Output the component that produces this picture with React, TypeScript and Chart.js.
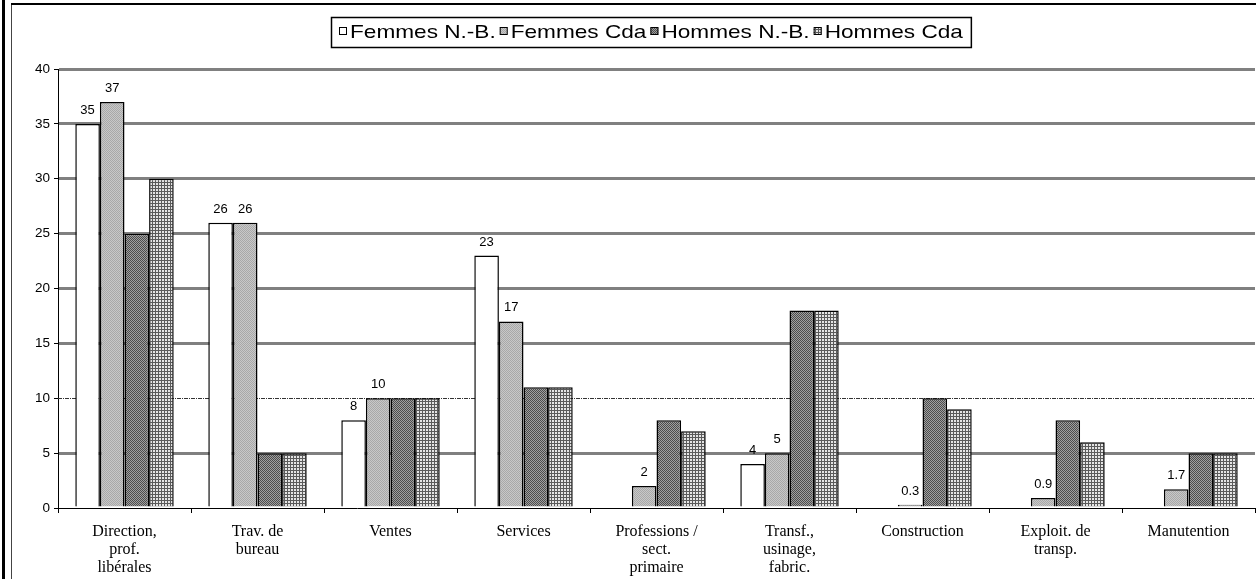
import React, { useEffect, useRef } from "react";
import { Chart, registerables } from "chart.js";

Chart.register(...registerables);

const categories: string[][] = [
  ["Direction,", "prof.", "libérales"],
  ["Trav. de", "bureau"],
  ["Ventes"],
  ["Services"],
  ["Professions /", "sect.", "primaire"],
  ["Transf.,", "usinage,", "fabric."],
  ["Construction"],
  ["Exploit. de", "transp."],
  ["Manutention"],
];

const seriesLabels = ["Femmes N.-B.", "Femmes Cda", "Hommes N.-B.", "Hommes Cda"];
const femmesNB: (number | null)[] = [35, 26, 8, 23, null, 4, null, null, null];
const femmesCda: (number | null)[] = [37, 26, 10, 17, 2, 5, 0.3, 0.9, 1.7];
const hommesNB: (number | null)[] = [25, 5, 10, 11, 8, 18, 10, 8, 5];
const hommesCda: (number | null)[] = [30, 5, 10, 11, 7, 18, 9, 6, 5];
const labelledSeries = [0, 1];

const Y_MIN = 0;
const Y_MAX = 40;
const Y_STEP = 5;
const DOTTED_VALUE = 10;

function makePattern(kind: string): CanvasPattern | string {
  const c = document.createElement("canvas");
  const ctx = c.getContext("2d");
  if (!ctx) return "#999";
  if (kind === "white") return "#ffffff";
  if (kind === "light") {
    c.width = 2; c.height = 2;
    ctx.fillStyle = "#c8c8c8"; ctx.fillRect(0, 0, 2, 2);
    ctx.fillStyle = "#a8a8a8"; ctx.fillRect(0, 0, 1, 1); ctx.fillRect(1, 1, 1, 1);
  } else if (kind === "dark") {
    c.width = 2; c.height = 2;
    ctx.fillStyle = "#a0a0a0"; ctx.fillRect(0, 0, 2, 2);
    ctx.fillStyle = "#4c4c4c"; ctx.fillRect(0, 0, 1, 1); ctx.fillRect(1, 1, 1, 1);
  } else {
    c.width = 3; c.height = 3;
    ctx.fillStyle = "#e4e4e4"; ctx.fillRect(0, 0, 3, 3);
    ctx.fillStyle = "#5a5a5a"; ctx.fillRect(0, 2, 3, 1); ctx.fillRect(2, 0, 1, 3);
  }
  const p = ctx.createPattern(c, "repeat");
  return p || "#999";
}

const dottedLinePlugin = {
  id: "dottedLine",
  beforeDatasetsDraw(chart: any) {
    const { ctx, chartArea, scales } = chart;
    const y = Math.round(scales.y.getPixelForValue(DOTTED_VALUE)) + 0.5;
    ctx.save();
    ctx.strokeStyle = "#333";
    ctx.lineWidth = 1;
    ctx.setLineDash([4, 1, 1, 1]);
    ctx.beginPath();
    ctx.moveTo(chartArea.left, y);
    ctx.lineTo(chartArea.right, y);
    ctx.stroke();
    ctx.restore();
  },
};

const valueLabelPlugin = {
  id: "valueLabels",
  afterDatasetsDraw(chart: any) {
    const ctx = chart.ctx;
    ctx.save();
    ctx.font = '13px "Liberation Sans", Arial, sans-serif';
    ctx.fillStyle = "#000";
    ctx.textAlign = "center";
    ctx.textBaseline = "alphabetic";
    labelledSeries.forEach((di) => {
      const meta = chart.getDatasetMeta(di);
      const data = chart.data.datasets[di].data;
      meta.data.forEach((el: any, i: number) => {
        const v = data[i];
        if (v === null || v === undefined) return;
        ctx.fillText(String(v), el.x, el.y - 10);
      });
    });
    ctx.restore();
  },
};

const legendPlugin = {
  id: "boxLegend",
  afterDraw(chart: any) {
    const ctx = chart.ctx;
    const ds = chart.data.datasets;
    const fontSize = 19;
    const sx = 1.19;
    const boxLeft = 331;
    const boxTop = 17;
    const boxH = 30;
    ctx.save();
    ctx.font = `${fontSize}px "Liberation Sans", Arial, sans-serif`;
    ctx.textBaseline = "middle";
    ctx.textAlign = "left";
    let x = boxLeft + 8;
    ds.forEach((d: any) => {
      ctx.fillStyle = d.backgroundColor;
      ctx.fillRect(x, 27, 8, 8);
      ctx.strokeStyle = "#000";
      ctx.lineWidth = 1;
      ctx.strokeRect(x + 0.5, 27.5, 7, 7);
      x += 11;
      const w = ctx.measureText(d.label).width * sx;
      ctx.save();
      ctx.translate(x, 33);
      ctx.scale(sx, 1);
      ctx.fillStyle = "#000";
      ctx.fillText(d.label, 0, 0);
      ctx.restore();
      x += w + 4;
    });
    const right = x + 4;
    ctx.strokeStyle = "#000";
    ctx.lineWidth = 1.5;
    ctx.strokeRect(boxLeft + 0.5, boxTop + 0.5, right - boxLeft, boxH);
    ctx.restore();
  },
};

export default function App() {
  const ref = useRef<HTMLCanvasElement | null>(null);

  useEffect(() => {
    if (!ref.current) return;
    const fills = [makePattern("white"), makePattern("light"), makePattern("dark"), makePattern("grid")];
    const series = [femmesNB, femmesCda, hommesNB, hommesCda];
    const chart = new Chart(ref.current, {
      type: "bar",
      data: {
        labels: categories,
        datasets: series.map((s, i) => ({
          label: seriesLabels[i],
          data: s,
          backgroundColor: fills[i] as any,
          borderColor: "#000",
          borderWidth: 1.5,
          categoryPercentage: 0.74,
          barPercentage: 1,
        })),
      },
      options: {
        responsive: false,
        animation: false,
        events: [],
        layout: { padding: { left: 0, top: 69, right: 1, bottom: 0 } },
        plugins: {
          legend: { display: false },
          title: { display: false },
          tooltip: { enabled: false },
        },
        scales: {
          x: {
            grid: {
              display: true,
              drawOnChartArea: false,
              drawTicks: true,
              tickLength: 5,
              offset: true,
              color: "#000",
              lineWidth: 1,
            },
            border: { color: "#000", width: 1 },
            ticks: {
              color: "#000",
              font: { family: '"Liberation Serif", "Times New Roman", serif', size: 16, lineHeight: 1.125 },
              padding: 10,
              maxRotation: 0,
              autoSkip: false,
            },
            afterFit: (s: any) => { s.height = 71; },
          },
          y: {
            min: Y_MIN,
            max: Y_MAX,
            ticks: {
              stepSize: Y_STEP,
              color: "#000",
              font: { family: '"Liberation Sans", Arial, sans-serif', size: 13.5 },
              padding: 4,
            },
            grid: {
              color: (c: any) => {
                const v = c.tick ? c.tick.value : null;
                if (v === 0 || v === DOTTED_VALUE) return "rgba(0,0,0,0)";
                return "#808080";
              },
              lineWidth: 3,
              tickColor: "#000",
              tickWidth: 1,
              tickLength: 4,
            },
            border: { color: "#000", width: 1 },
            afterFit: (s: any) => { s.width = 58; },
          },
        },
      },
      plugins: [dottedLinePlugin, valueLabelPlugin, legendPlugin],
    });
    return () => chart.destroy();
  }, []);

  return (
    <div style={{ position: "fixed", left: 0, top: 0, width: 1256, height: 579, background: "#fff", overflow: "hidden" }}>
      <canvas ref={ref} width={1256} height={579} style={{ position: "absolute", left: 0, top: 0, width: 1256, height: 579 }} />
      <div style={{ position: "absolute", left: 2, top: 0, width: 3, height: 579, background: "#000" }} />
      <div style={{ position: "absolute", left: 11, top: 4, width: 1, height: 575, background: "#444" }} />
      <div style={{ position: "absolute", left: 11, top: 3, width: 1245, height: 2, background: "#000" }} />
    </div>
  );
}
